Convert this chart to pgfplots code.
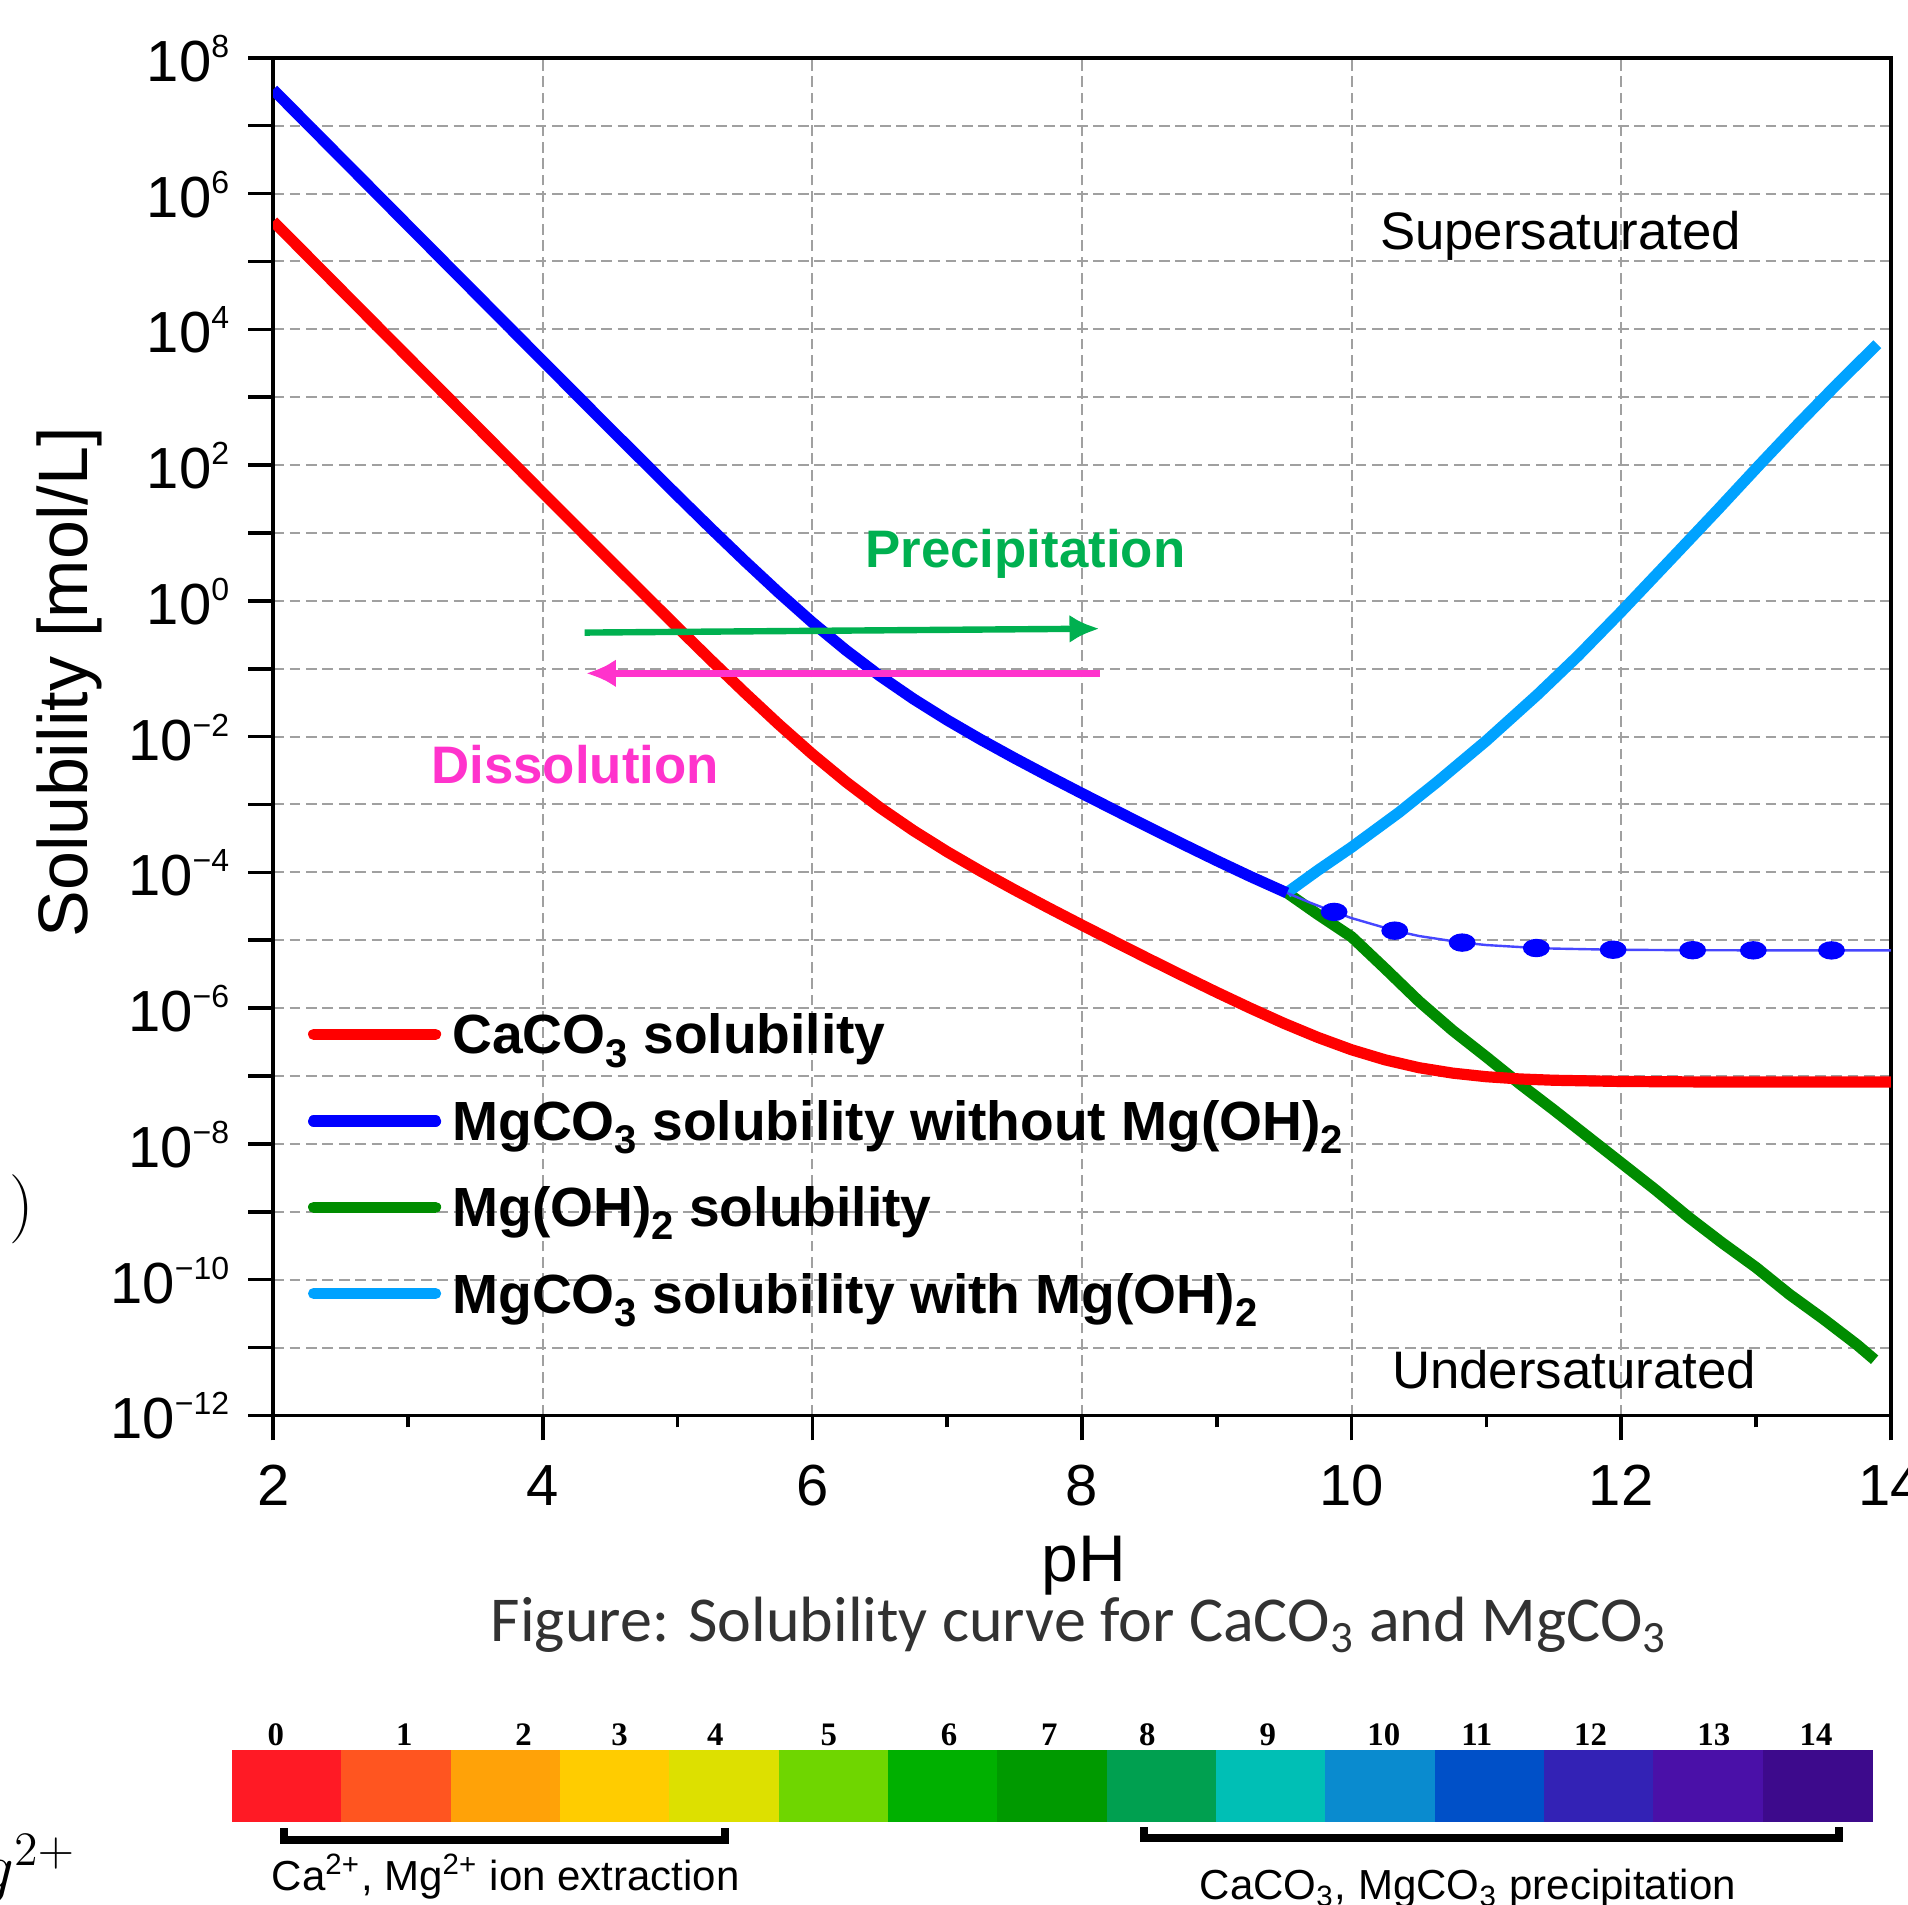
\documentclass[border=0pt]{standalone}
\usepackage{fontspec}
\setmainfont{Liberation Sans}
\newfontfamily\capfont{Carlito}
\newfontfamily\serifb{Liberation Serif}
\usepackage{pgfplots}
\pgfplotsset{compat=1.18}
\usetikzlibrary{arrows.meta}

\definecolor{cRed}{RGB}{255,0,0}
\definecolor{cBlue}{RGB}{0,0,255}
\definecolor{cThin}{RGB}{70,70,255}
\definecolor{cGreen}{RGB}{0,140,0}
\definecolor{cLBlue}{RGB}{0,162,255}
\definecolor{cArrG}{RGB}{0,176,80}
\definecolor{cArrP}{RGB}{255,51,204}
\definecolor{cGrid}{RGB}{160,160,160}
\definecolor{cCap}{RGB}{50,50,50}
\definecolor{b0}{RGB}{255,26,37}
\definecolor{b1}{RGB}{255,85,32}
\definecolor{b2}{RGB}{255,162,8}
\definecolor{b3}{RGB}{255,204,0}
\definecolor{b4}{RGB}{221,224,0}
\definecolor{b5}{RGB}{111,214,0}
\definecolor{b6}{RGB}{0,176,0}
\definecolor{b7}{RGB}{0,154,0}
\definecolor{b8}{RGB}{0,160,80}
\definecolor{b9}{RGB}{0,191,181}
\definecolor{b10}{RGB}{10,139,207}
\definecolor{b11}{RGB}{0,80,200}
\definecolor{b12}{RGB}{51,34,181}
\definecolor{b13}{RGB}{74,16,168}
\definecolor{b14}{RGB}{61,10,140}

\newcommand{\ex}[1]{\raisebox{6pt}{\fontsize{8}{8}\selectfont #1}}
\newcommand{\lsub}[1]{\raisebox{-3.3pt}{\fontsize{10}{10}\selectfont #1}}

\begin{document}
\begin{tikzpicture}
\begin{axis}[
  at={(68.3pt,122.4pt)}, anchor=south west,
  width=404.4pt, height=339.4pt, scale only axis,
  xmin=2, xmax=14, ymin=-12, ymax=8,
  xtick={2,4,6,8,10,12,14},
  xticklabels={2,4,6,8,10,12,14},
  minor xtick={3,5,7,9,11,13},
  ytick={-12,-11,-10,-9,-8,-7,-6,-5,-4,-3,-2,-1,0,1,2,3,4,5,6,7,8},
  yticklabels={{10\ex{−12}},{},{10\ex{−10}},{},{10\ex{−8}},{},{10\ex{−6}},{},{10\ex{−4}},{},{10\ex{−2}},{},{10\ex{0}},{},{10\ex{2}},{},{10\ex{4}},{},{10\ex{6}},{},{10\ex{8}}},
  tick pos=left,
  tick align=outside,
  major tick length=6.25pt, minor tick length=3pt,
  tick style={black, line width=0.9pt},
  axis line style={line width=0.9pt},
  grid=major,
  major grid style={cGrid, line width=0.5pt, dash pattern=on 2.7pt off 1.4pt},
  tick label style={font=\fontsize{14.5}{14.5}\selectfont},
  xticklabel style={anchor=base, yshift=-16.25pt, inner sep=0pt},
  yticklabel style={anchor=base east, xshift=-4.55pt, yshift=-5.9pt, inner sep=0pt},
  /pgf/number format/assume math mode=true,
]
% Mg(OH)2 solubility
\addplot[cGreen, line width=2.8pt, line join=round] coordinates {
(9.52,-4.30) (9.75,-4.62) (10.0,-4.95) (10.25,-5.42) (10.5,-5.90) (10.75,-6.33)
(11.0,-6.72) (11.25,-7.12) (11.5,-7.50) (11.75,-7.89) (12.0,-8.28) (12.25,-8.67)
(12.5,-9.08) (12.75,-9.46) (13.0,-9.82) (13.25,-10.22) (13.5,-10.58) (13.75,-10.96)
(13.88,-11.18)};
% MgCO3 with Mg(OH)2
\addplot[cLBlue, line width=2.8pt, line join=round] coordinates {
(9.52,-4.30) (9.75,-3.97) (10.0,-3.63) (10.35,-3.12) (10.64,-2.66) (11.0,-2.06)
(11.38,-1.38) (11.68,-0.81) (12.0,-0.16) (12.42,0.72) (12.72,1.35) (13.01,1.97)
(13.31,2.60) (13.61,3.21) (13.90,3.78)};
% CaCO3
\addplot[cRed, line width=2.8pt, line join=round] coordinates {
(2,5.590) (3,3.590) (4,1.592) (4.5,0.596) (5,-0.392) (5.25,-0.879) (5.5,-1.356)
(5.75,-1.819) (6,-2.259) (6.25,-2.669) (6.5,-3.045) (6.75,-3.386) (7,-3.697)
(7.25,-3.985) (7.5,-4.258) (7.75,-4.521) (8,-4.778) (8.25,-5.030) (8.5,-5.280)
(8.75,-5.526) (9,-5.768) (9.25,-6.002) (9.5,-6.226) (9.75,-6.432) (10,-6.614)
(10.25,-6.763) (10.5,-6.878) (10.75,-6.958) (11,-7.011) (11.25,-7.044) (11.5,-7.063)
(12,-7.081) (12.5,-7.087) (13,-7.089) (13.5,-7.090) (14,-7.090)};
% MgCO3 without Mg(OH)2, metastable continuation
\addplot[cThin, line width=0.6pt] coordinates {
(9.52,-4.303) (9.7,-4.453) (9.87,-4.583) (10,-4.674) (10.32,-4.859) (10.5,-4.938)
(10.82,-5.035) (11,-5.071) (11.37,-5.115) (11.5,-5.123) (11.94,-5.140) (12.5,-5.147)
(13,-5.149) (14,-5.150)};
\addplot[only marks, mark=*, mark size=2.1pt, cBlue, mark options={xscale=1.5}] coordinates {
(9.87,-4.583) (10.32,-4.859) (10.82,-5.035) (11.37,-5.115) (11.94,-5.140)
(12.53,-5.147) (12.98,-5.149) (13.56,-5.150)};
% MgCO3 without Mg(OH)2
\addplot[cBlue, line width=2.8pt, line join=round] coordinates {
(2,7.530) (3,5.530) (4,3.532) (4.5,2.536) (5,1.548) (5.25,1.061) (5.5,0.584)
(5.75,0.122) (6,-0.319) (6.25,-0.729) (6.5,-1.105) (6.75,-1.446) (7,-1.757)
(7.25,-2.045) (7.5,-2.318) (7.75,-2.581) (8,-2.838) (8.25,-3.090) (8.5,-3.340)
(8.75,-3.586) (9,-3.828) (9.25,-4.062) (9.52,-4.303)};
% arrows
\addplot[cArrG, line width=1.6pt, -{Latex[length=7.5pt,width=7pt]}] coordinates {(4.31,-0.468) (8.13,-0.41)};
\addplot[cArrP, line width=1.6pt, -{Latex[length=7.5pt,width=7pt]}] coordinates {(8.13,-1.068) (4.32,-1.068)};
\node[anchor=base, inner sep=0pt, font=\fontsize{13.2}{13.2}\selectfont] at (axis cs:11.55,5.17) {Supersaturated};
\node[anchor=base, inner sep=0pt, font=\fontsize{13.2}{13.2}\selectfont] at (axis cs:11.65,-11.61) {Undersaturated};
\node[anchor=base, inner sep=0pt, text=cArrG, font=\fontsize{13.2}{13.2}\selectfont\bfseries] at (axis cs:7.58,0.49) {Precipitation};
\node[anchor=base, inner sep=0pt, text=cArrP, font=\fontsize{13.2}{13.2}\selectfont\bfseries] at (axis cs:4.24,-2.69) {Dissolution};
\end{axis}

% axis labels and caption
\node[anchor=base, inner sep=0pt, font=\fontsize{16.5}{16.5}\selectfont] at (271pt,80.8pt) {pH};
\node[anchor=base, rotate=90, inner sep=0pt, font=\fontsize{17.5}{17.5}\selectfont] at (21.75pt,305.7pt) {Solubility [mol/L]};
\node[anchor=base, inner sep=0pt, text=cCap, font=\capfont\fontsize{16}{16}\selectfont] at (269.75pt,65.8pt) {Figure: Solubility curve for CaCO\textsubscript{3} and MgCO\textsubscript{3}};

% legend
\begin{scope}[line width=2.8pt, line cap=round]
\draw[cRed] (78.4pt,217.65pt) -- (108.9pt,217.65pt);
\draw[cBlue] (78.4pt,195.98pt) -- (108.9pt,195.98pt);
\draw[cGreen] (78.4pt,174.45pt) -- (108.9pt,174.45pt);
\draw[cLBlue] (78.4pt,152.88pt) -- (108.9pt,152.88pt);
\end{scope}
\begin{scope}[every node/.style={anchor=base west, inner sep=0pt, font=\fontsize{13.8}{13.8}\selectfont\bfseries}]
\node at (112.9pt,212.75pt) {CaCO\lsub{3} solubility};
\node at (112.9pt,191.08pt) {MgCO\lsub{3} solubility without Mg(OH)\lsub{2}};
\node at (112.9pt,169.55pt) {Mg(OH)\lsub{2} solubility};
\node at (112.9pt,147.98pt) {MgCO\lsub{3} solubility with Mg(OH)\lsub{2}};
\end{scope}

% pH colour bar
\begin{axis}[
  at={(58pt,21pt)}, anchor=south west,
  width=410.1pt, height=17.6pt, scale only axis,
  xmin=0, xmax=15, ymin=0, ymax=1, hide axis, clip=false]
\addplot[fill=b0, draw=b0, line width=0.1pt] coordinates {(0,1) (1,1)} \closedcycle;
\addplot[fill=b1, draw=b1, line width=0.1pt] coordinates {(1,1) (2,1)} \closedcycle;
\addplot[fill=b2, draw=b2, line width=0.1pt] coordinates {(2,1) (3,1)} \closedcycle;
\addplot[fill=b3, draw=b3, line width=0.1pt] coordinates {(3,1) (4,1)} \closedcycle;
\addplot[fill=b4, draw=b4, line width=0.1pt] coordinates {(4,1) (5,1)} \closedcycle;
\addplot[fill=b5, draw=b5, line width=0.1pt] coordinates {(5,1) (6,1)} \closedcycle;
\addplot[fill=b6, draw=b6, line width=0.1pt] coordinates {(6,1) (7,1)} \closedcycle;
\addplot[fill=b7, draw=b7, line width=0.1pt] coordinates {(7,1) (8,1)} \closedcycle;
\addplot[fill=b8, draw=b8, line width=0.1pt] coordinates {(8,1) (9,1)} \closedcycle;
\addplot[fill=b9, draw=b9, line width=0.1pt] coordinates {(9,1) (10,1)} \closedcycle;
\addplot[fill=b10, draw=b10, line width=0.1pt] coordinates {(10,1) (11,1)} \closedcycle;
\addplot[fill=b11, draw=b11, line width=0.1pt] coordinates {(11,1) (12,1)} \closedcycle;
\addplot[fill=b12, draw=b12, line width=0.1pt] coordinates {(12,1) (13,1)} \closedcycle;
\addplot[fill=b13, draw=b13, line width=0.1pt] coordinates {(13,1) (14,1)} \closedcycle;
\addplot[fill=b14, draw=b14, line width=0.1pt] coordinates {(14,1) (15,1)} \closedcycle;
\end{axis}

\begin{scope}[every node/.style={inner sep=0pt, font=\serifb\bfseries\fontsize{8.2}{8.2}\selectfont}]
\node at (68.95pt,42.5pt) {0};
\node at (101.1pt,42.5pt) {1};
\node at (130.9pt,42.5pt) {2};
\node at (154.9pt,42.5pt) {3};
\node at (178.85pt,42.5pt) {4};
\node at (207.2pt,42.5pt) {5};
\node at (237.25pt,42.5pt) {6};
\node at (262.3pt,42.5pt) {7};
\node at (286.85pt,42.5pt) {8};
\node at (316.95pt,42.5pt) {9};
\node at (345.95pt,42.5pt) {10};
\node at (369.2pt,42.5pt) {11};
\node at (397.65pt,42.5pt) {12};
\node at (428.45pt,42.5pt) {13};
\node at (454.0pt,42.5pt) {14};
\end{scope}

\draw[line width=2pt] (70.9pt,19.2pt) -- (70.9pt,16.25pt) -- (181.25pt,16.25pt) -- (181.25pt,19.2pt);
\draw[line width=2pt] (286pt,19.4pt) -- (286pt,16.75pt) -- (459.65pt,16.75pt) -- (459.65pt,19.4pt);
\node[anchor=base west, inner sep=0pt, font=\fontsize{10.5}{10.5}\selectfont] at (67.75pt,3.6pt) {Ca\textsuperscript{2+}, Mg\textsuperscript{2+} ion extraction};
\node[anchor=base west, inner sep=0pt, font=\fontsize{10.5}{10.5}\selectfont] at (299.75pt,1.3pt) {CaCO\textsubscript{3}, MgCO\textsubscript{3} precipitation};

% fragments cut at the left edge
\node[anchor=base east, inner sep=0pt, font=\fontsize{19}{19}\selectfont] at (8.6pt,169.5pt) {$)$};
\node[anchor=base east, inner sep=0pt, font=\fontsize{16.5}{16.5}\selectfont] at (19.25pt,3.5pt) {$Mg^{2+}$};

\pgfresetboundingbox
\useasboundingbox (0pt,0pt) rectangle (477pt,476.25pt);
\end{tikzpicture}
\end{document}
